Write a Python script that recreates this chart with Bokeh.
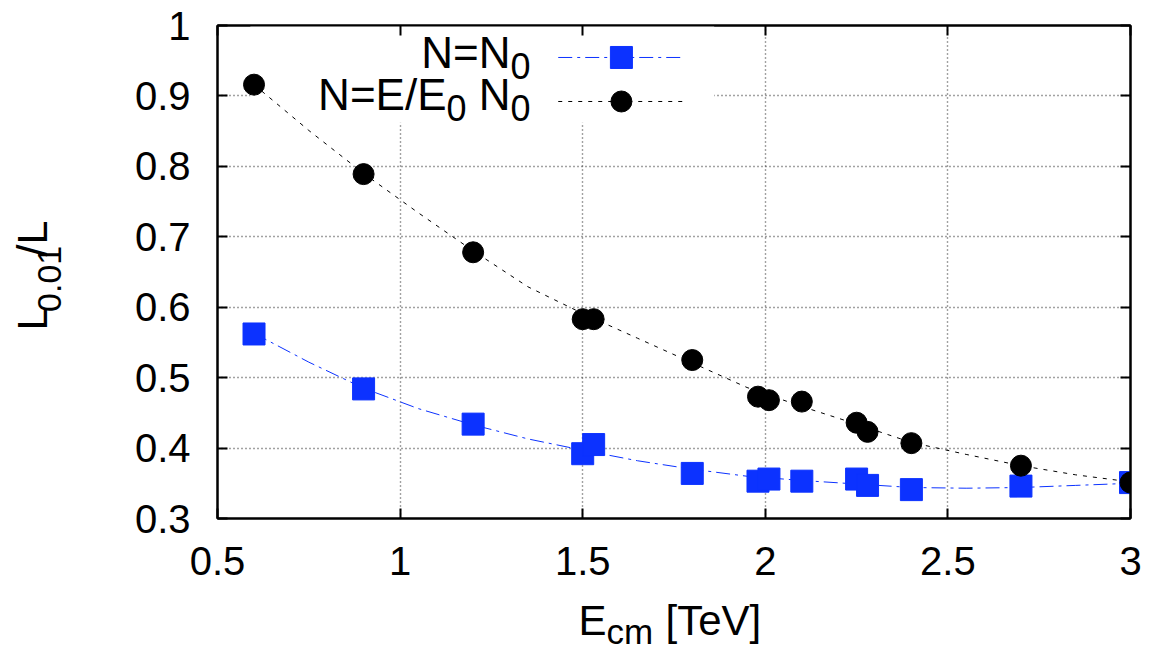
import math
from bokeh.plotting import figure
from bokeh.layouts import row, column
from bokeh.models import (Range1d, FixedTicker, CustomJSTickFormatter, LinearAxis, Label)
from bokeh.embed import file_html
from bokeh.resources import INLINE

# ---------------- data ----------------
energy = [0.6, 0.9, 1.2, 1.5, 1.53, 1.8, 1.98, 2.01, 2.1, 2.25, 2.28, 2.4, 2.7, 3.0]
ratio_fixed_n = [0.562, 0.484, 0.434, 0.392, 0.405, 0.364, 0.353, 0.356, 0.353, 0.356, 0.347, 0.341, 0.346, 0.351]
ratio_scaled_n = [0.916, 0.789, 0.678, 0.583, 0.583, 0.525, 0.473, 0.468, 0.466, 0.436, 0.423, 0.407, 0.375, 0.351]

# fitted curves
fit_x = [0.6, 0.75, 0.9, 1.05, 1.2, 1.35, 1.5, 1.65, 1.8, 1.95, 2.1, 2.25, 2.4, 2.55, 2.7, 2.85, 3.0]
fit_fixed_n = [0.563, 0.522, 0.485, 0.456, 0.433, 0.413, 0.397, 0.382, 0.370, 0.360, 0.354, 0.349, 0.344, 0.343, 0.344, 0.347, 0.350]
fit_scaled_n = [0.916, 0.851, 0.790, 0.734, 0.680, 0.629, 0.591, 0.556, 0.521, 0.486, 0.459, 0.434, 0.408, 0.391, 0.375, 0.362, 0.352]

x_ticks = [0.5, 1.0, 1.5, 2.0, 2.5, 3.0]
y_ticks = [0.3, 0.4, 0.5, 0.6, 0.7, 0.8, 0.9, 1.0]

# ---------------- style ----------------
BLUE = "#0c32ff"
FONT = "Liberation Sans"
TICK_SIZE = "40px"
YLAB_W = 70          # width of the strip holding the y-axis title
MAIN_H = 592         # height of the main figure
XLAB_H = 60          # height of the strip holding the x-axis title
TOTAL_W = 1166

p = figure(width=TOTAL_W - YLAB_W, height=MAIN_H,
           x_range=Range1d(0.5, 3.0), y_range=Range1d(0.3, 1.0),
           output_backend="svg", toolbar_location=None,
           min_border_left=217 - YLAB_W, min_border_right=36,
           min_border_top=25, min_border_bottom=MAIN_H - 518,
           x_axis_location=None, y_axis_location=None)
p.background_fill_color = "white"
p.border_fill_color = "white"
p.outline_line_color = "black"
p.outline_line_width = 2

fmt = CustomJSTickFormatter(code="return (Math.round(tick*10)/10).toString();")

def make_axis(ticks, labels=True):
    ax = LinearAxis(ticker=FixedTicker(ticks=ticks), formatter=fmt)
    ax.axis_line_color = "black"
    ax.axis_line_width = 2
    ax.major_tick_in = 10
    ax.major_tick_out = 0
    ax.major_tick_line_width = 2
    ax.major_tick_line_color = "black"
    ax.minor_tick_line_color = None
    if labels:
        ax.major_label_text_font = FONT
        ax.major_label_text_font_size = TICK_SIZE
        ax.major_label_text_color = "black"
    else:
        ax.major_label_text_font_size = "0px"
        ax.major_label_standoff = 0
        ax.major_label_text_alpha = 0
    return ax

xb = make_axis(x_ticks)
xb.major_label_standoff = 28
yl = make_axis(y_ticks)
yl.major_label_standoff = 27
p.add_layout(xb, "below")
p.add_layout(yl, "left")
p.add_layout(make_axis(x_ticks, labels=False), "above")
p.add_layout(make_axis(y_ticks, labels=False), "right")

p.xgrid.ticker = FixedTicker(ticks=x_ticks)
p.ygrid.ticker = FixedTicker(ticks=y_ticks)
for g in (p.xgrid, p.ygrid):
    g.grid_line_color = "#444444"
    g.grid_line_dash = "1 3"
    g.grid_line_width = 1.4

# opaque key area (hides the grid only)
p.quad(left=[0.59], right=[1.86], bottom=[0.862], top=[1.0],
       fill_color="white", line_color=None)

# fitted curves
p.line(fit_x, fit_fixed_n, line_color=BLUE, line_width=1, line_dash="14 5 3 5")
p.line(fit_x, fit_scaled_n, line_color="black", line_width=1, line_dash="4 6")

# data points
p.scatter(energy, ratio_fixed_n, marker="square", size=22, fill_color=BLUE, line_color=BLUE)
p.scatter(energy, ratio_scaled_n, marker="circle", size=21, fill_color="black", line_color="black")

# ---------------- legend ----------------
lx0, lx1, lxm = 1.433, 1.778, 1.606
ly1, ly2 = 0.9546, 0.8921
p.line([lx0, lx1], [ly1, ly1], line_color=BLUE, line_width=1, line_dash="14 5 3 5")
p.scatter([lxm], [ly1], marker="square", size=22, fill_color=BLUE, line_color=BLUE)
p.line([lx0, lx1], [ly2, ly2], line_color="black", line_width=1, line_dash="4 6")
p.scatter([lxm], [ly2], marker="circle", size=21, fill_color="black", line_color="black")

PX_X = 2.5 / 913.0
PX_Y = 0.7 / 493.0
BASE_K = 0.39   # measured shift of the rendered baseline, in em

def lab(text, fx, fy, size, align="left"):
    """fx: px from frame left, fy: px of baseline from frame bottom (up)."""
    p.add_layout(Label(text=text, x=0.5 + fx * PX_X, y=0.3 + (fy + BASE_K * size) * PX_Y,
                       text_font=FONT, text_font_size=f"{size}px", text_color="black",
                       text_align=align, text_baseline="alphabetic"))

LEG = 44
LSUB = 36
lab("0", 313, 438, LSUB, "right")
lab("N=N", 293, 449, LEG, "right")
lab("0", 313, 396, LSUB, "right")
lab("N", 293, 407, LEG, "right")
lab("0", 249, 396, LSUB, "right")
lab("N=E/E", 229, 407, LEG, "right")

# ---------------- axis titles (own strips, page pixel coordinates) ----------------
def strip(w, h, y_top):
    f = figure(width=w, height=h, x_range=Range1d(0, w), y_range=Range1d(y_top + h, y_top),
               output_backend="svg", toolbar_location=None, min_border=0,
               x_axis_location=None, y_axis_location=None)
    f.outline_line_color = None
    f.xgrid.visible = False
    f.ygrid.visible = False
    f.background_fill_color = "white"
    f.border_fill_color = "white"
    return f

ylab = strip(YLAB_W, MAIN_H, 0)
xlab = strip(TOTAL_W, XLAB_H, MAIN_H)

def hlab(f, text, x, base, size):
    f.add_layout(Label(text=text, x=x, y=base - BASE_K * size,
                       text_font=FONT, text_font_size=f"{size}px", text_color="black",
                       text_align="left", text_baseline="alphabetic"))

ROT_LIFT = 14   # extra measured lift of rotated text

def vlab(f, text, base_x, center_y, size):
    # centred piece, rotated to read upwards; compensate the renderer's lift
    f.add_layout(Label(text=text, x=base_x - BASE_K * size,
                       y=center_y + BASE_K * size + ROT_LIFT,
                       text_font=FONT, text_font_size=f"{size}px", text_color="black",
                       text_align="center", text_baseline="middle", angle=math.pi / 2))

# E_cm [TeV]
hlab(xlab, "E", 578, 636, 42)
hlab(xlab, "cm", 606, 645, 35)
hlab(xlab, "[TeV]", 665, 636, 42)

# L_0.01/L  (centres along the text line)
vlab(ylab, "L", 48, 321, 43)
vlab(ylab, "0.01", 62, 277, 34)
vlab(ylab, "/L", 48, 225, 43)

layout = column(row(ylab, p), xlab)
open("out.html", "w").write(file_html(layout, INLINE))
